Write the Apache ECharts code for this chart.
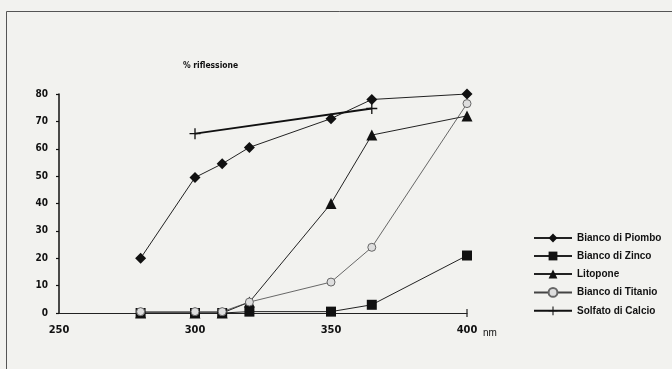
<!DOCTYPE html>
<html><head><meta charset="utf-8">
<script src="https://cdn.jsdelivr.net/npm/echarts@6/dist/echarts.min.js"></script>
<style>html,body{margin:0;padding:0;background:#f2f2ef}#c{width:672px;height:369px}</style>
</head><body><div id="c"></div>
<script>
var wavelengths = [280, 300, 310, 320, 350, 365, 400];
var piombo   = [20, 49.5, 54.5, 60.5, 71, 78, 80];
var zinco    = [0, 0, 0, 0.5, 0.5, 3, 21];
var litopone = [0, 0, 0, 4, 40, 65, 72];
var titanio  = [0.5, 0.5, 0.5, 4, 11.3, 24, 76.5];
var calcioX  = [300, 365];
var calcio   = [65.5, 74.7];
var seriesNames = ['Bianco di Piombo', 'Bianco di Zinco', 'Litopone', 'Bianco di Titanio', 'Solfato di Calcio'];
var xTicks = [250, 300, 350, 400];
var yTicks = [0, 10, 20, 30, 40, 50, 60, 70, 80];

function pairs(xs, ys){ return xs.map(function(x,i){ return [x, ys[i]]; }); }
var font = '"Liberation Sans",Arial,sans-serif';
var cond = '"DejaVu Sans Condensed","Liberation Sans",sans-serif';
var plus = 'path://M4.4,0H5.6V4.4H10V5.6H5.6V10H4.4V5.6H0V4.4H4.4Z';

var chart = echarts.init(document.getElementById('c'), null, {renderer:'canvas'});
chart.setOption({
  backgroundColor: '#f2f2ef',
  animation: false,
  title: {text:'% riflessione', left:178, top:56, textStyle:{fontFamily:cond, fontSize:8.5, fontWeight:'bold', color:'#111'}},
  grid: {left:59, right:205, top:94, bottom:56, containLabel:false},
  xAxis: {type:'value', min:xTicks[0], max:xTicks[xTicks.length-1], interval:50,
    axisLine:{lineStyle:{color:'#222', width:1.2}}, axisTick:{show:false}, splitLine:{show:false},
    axisLabel:{margin:12, fontFamily:cond, fontSize:11, fontWeight:'bold', color:'#111'}},
  yAxis: {type:'value', min:yTicks[0], max:yTicks[yTicks.length-1], interval:10,
    axisLine:{show:true, lineStyle:{color:'#111', width:1.5}}, axisTick:{show:true, length:3, lineStyle:{color:'#111', width:1.2}},
    splitLine:{show:false},
    axisLabel:{margin:11, fontFamily:cond, fontSize:10, fontWeight:'bold', color:'#111'}},
  legend: {orient:'vertical', left:528, top:228, itemWidth:38, itemHeight:11, itemGap:8,
    textStyle:{fontFamily:font, fontSize:10, fontWeight:'bold', color:'#111'},
    data: seriesNames},
  series: [
    {name:seriesNames[0], type:'line', data:pairs(wavelengths, piombo), symbol:'diamond', symbolSize:11,
      lineStyle:{color:'#222', width:1}, itemStyle:{color:'#111'}},
    {name:seriesNames[1], type:'line', data:pairs(wavelengths, zinco), symbol:'rect', symbolSize:10,
      lineStyle:{color:'#222', width:1}, itemStyle:{color:'#111'}},
    {name:seriesNames[2], type:'line', data:pairs(wavelengths, litopone), symbol:'triangle', symbolSize:11,
      lineStyle:{color:'#222', width:1}, itemStyle:{color:'#111'}},
    {name:seriesNames[3], type:'line', data:pairs(wavelengths, titanio), symbol:'circle', symbolSize:8,
      lineStyle:{color:'#444', width:0.8}, itemStyle:{color:'#dedede', borderColor:'#666', borderWidth:1}},
    {name:seriesNames[4], type:'line', data:pairs(calcioX, calcio), symbol:plus, symbolSize:11,
      lineStyle:{color:'#111', width:1.8}, itemStyle:{color:'#111'}}
  ],
  graphic: [
    {type:'rect', shape:{x:6.5, y:11.5, width:700, height:400}, style:{fill:'none', stroke:'#555', lineWidth:1}, silent:true},
    {type:'text', x:483, y:328, style:{text:'nm', fontFamily:font, fontSize:10, fill:'#111'}, silent:true},
    {type:'line', shape:{x1:467, y1:309, x2:467, y2:317}, style:{stroke:'#222', lineWidth:1.2}, silent:true}
  ]
});
</script></body></html>
